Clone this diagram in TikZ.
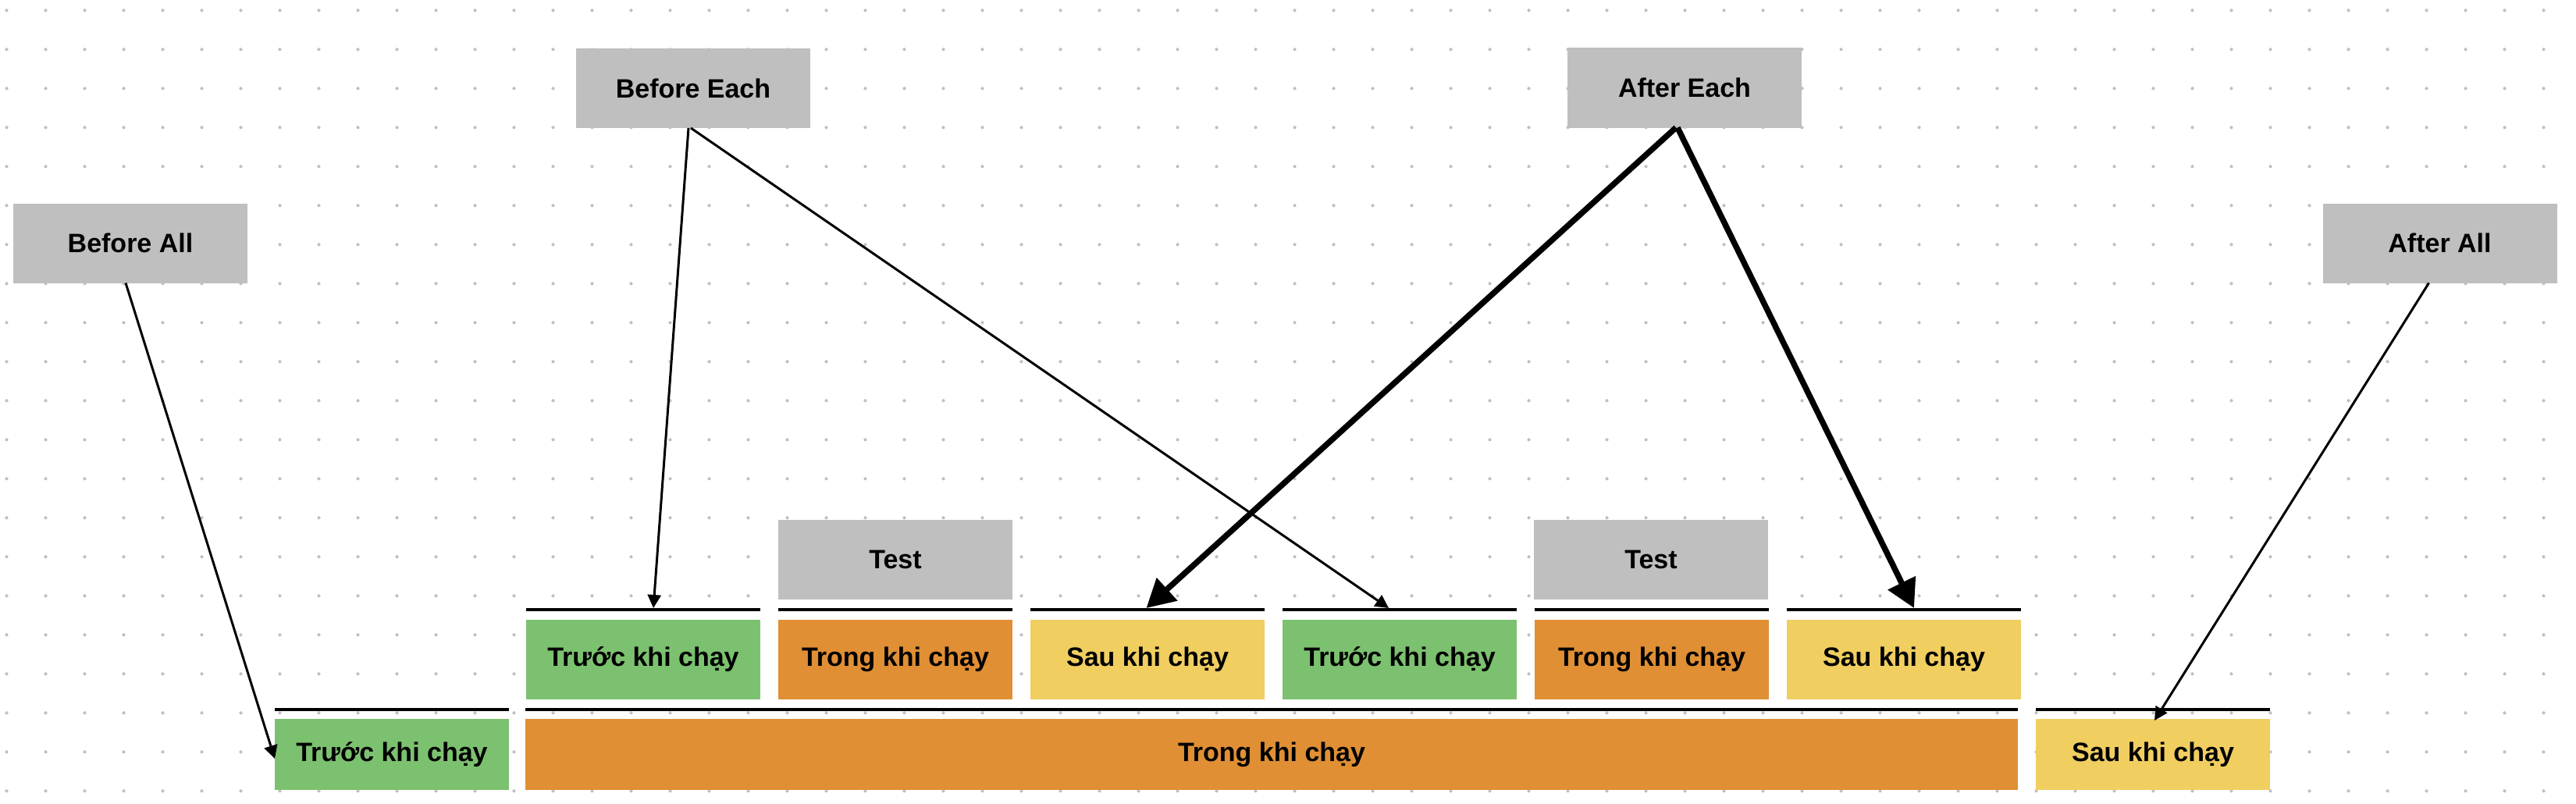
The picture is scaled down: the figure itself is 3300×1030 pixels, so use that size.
\documentclass[tikz,border=0pt]{standalone}
\usepackage{fontspec}
\setmainfont{Liberation Sans}
\usetikzlibrary{arrows.meta,calc}
\definecolor{cgreen}{RGB}{124,193,111}
\definecolor{corange}{RGB}{224,143,52}
\definecolor{cyellow}{RGB}{240,206,96}
\definecolor{cgrey}{RGB}{191,191,191}
\definecolor{cdot}{RGB}{192,192,192}
\begin{document}
\begin{tikzpicture}[x=1pt,y=-1pt,
  box/.style={minimum width=300pt, minimum height=102pt, inner sep=0pt, outer sep=0pt,
    font=\bfseries\fontsize{34}{40}\selectfont, text=black},
  hook/.style={box, fill=cgrey},
  lowbox/.style={box, minimum height=91pt},
  bar/.style={line width=3.5pt},
  thinarrow/.style={line width=3pt, -{Triangle[length=17pt,width=17pt]}},
  thickarrow/.style={line width=7.5pt, -{Triangle[length=36pt,width=38pt]}},
]
\fill[white] (0,0) rectangle (3300,1030);
\useasboundingbox (0,0) rectangle (3300,1030);
% dotted grid
\foreach \i in {0,...,65}{
  \foreach \j in {0,...,20}{
    \fill[cdot] ({8.5+50*\i},{13.3+50*\j}) circle[radius=2.1pt];
  }
}
% hook boxes
\node[hook] (ba) at (167,311.5) {Before All};
\node[hook] (be) at (888,113) {Before Each};
\node[hook] (ae) at (2158,112.5) {After Each};
\node[hook] (aa) at (3125.5,311.5) {After All};
\node[hook] (t1) at (1147,717) {Test};
\node[hook] (t2) at (2115,717) {Test};
% row 1
\node[box, fill=cgreen]  (g1) at (824,845)  {Trước khi chạy};
\node[box, fill=corange] (o1) at (1147,845) {Trong khi chạy};
\node[box, fill=cyellow] (y1) at (1470,845) {Sau khi chạy};
\node[box, fill=cgreen]  (g2) at (1793,845) {Trước khi chạy};
\node[box, fill=corange] (o2) at (2116,845) {Trong khi chạy};
\node[box, fill=cyellow] (y2) at (2439,845) {Sau khi chạy};
% row 2
\node[lowbox, fill=cgreen]  (G) at (502,966.5) {Trước khi chạy};
\node[lowbox, fill=corange, minimum width=1912pt] (O) at (1629,966.5) {Trong khi chạy};
\node[lowbox, fill=cyellow] (Y) at (2758,966.5) {Sau khi chạy};
% bars
\foreach \n in {g1,o1,y1,g2,o2,y2}{
  \draw[bar] ($(\n.north west)+(0,-13)$) -- ($(\n.north east)+(0,-13)$);
}
\foreach \n in {G,O,Y}{
  \draw[bar] ($(\n.north west)+(0,-12)$) -- ($(\n.north east)+(0,-12)$);
}
% arrow end points
\coordinate (tg1) at ($(g1.north)+(13,-15)$);
\coordinate (ty1) at ($(y1.north)+(-1.5,-15)$);
\coordinate (tg2) at ($(g2.north)+(-14,-15)$);
\coordinate (ty2) at ($(y2.north)+(13,-15)$);
\coordinate (tG) at ($(G.west)+(0,5.5)$);
\coordinate (tY) at ($(Y.north)+(2,2)$);
% connectors
\draw[thinarrow] ($(ba.south)+(-6,0)$) -- (tG);
\draw[thinarrow] ($(be.south)+(-6,0)$) -- (tg1);
\draw[thinarrow] ($(be.south)+(-3,0)$) -- (tg2);
\draw[thickarrow] ($(ae.south)+(-11,0)$) -- (ty1);
\draw[thickarrow] ($(ae.south)+(-9,0)$) -- (ty2);
\draw[thinarrow] ($(aa.south)+(-14,0)$) -- (tY);
\end{tikzpicture}
\end{document}
